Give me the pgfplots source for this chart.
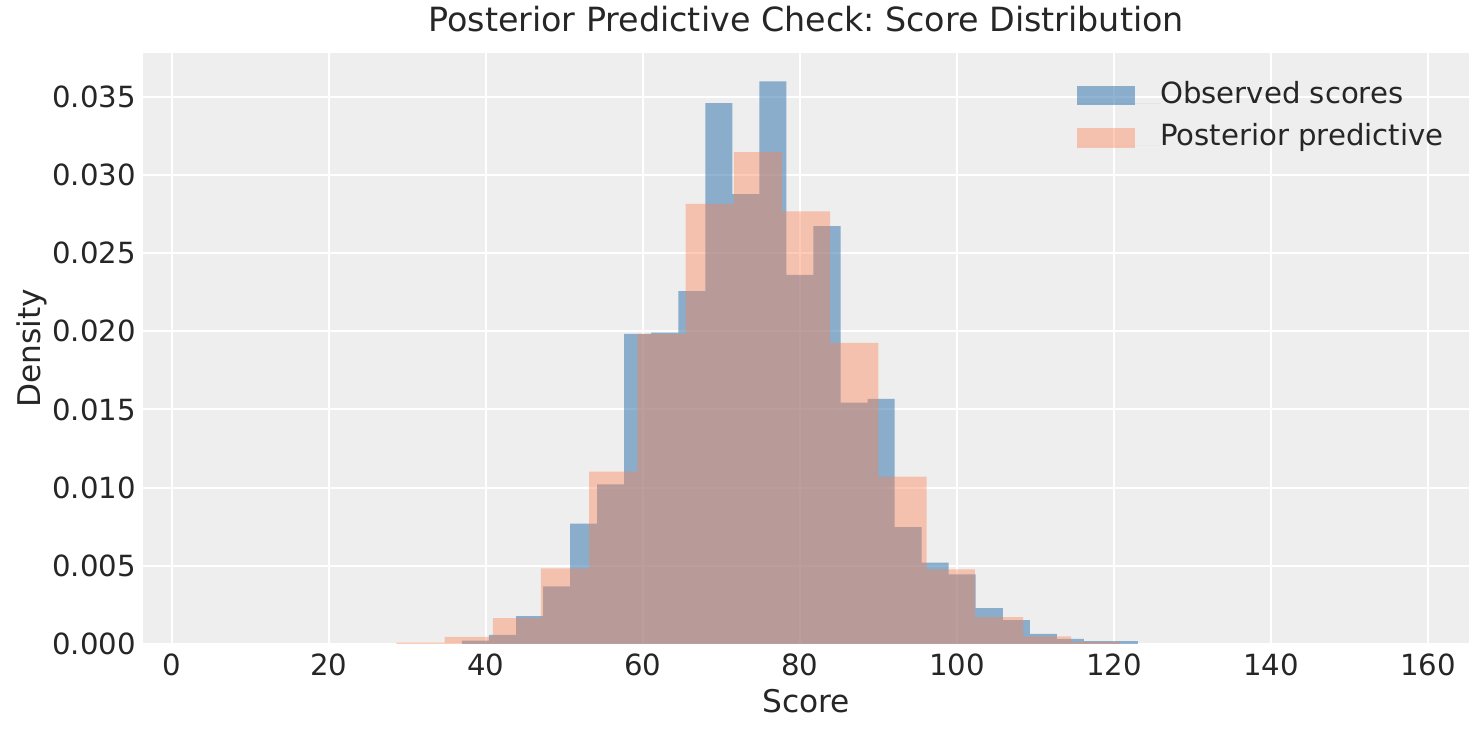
\documentclass[border=0pt]{standalone}
\usepackage{pgfplots}
\pgfplotsset{compat=1.18}
\usepackage{fontspec}
\setmainfont{DejaVu Sans}
\frenchspacing
\definecolor{obsblue}{RGB}{70,130,180}
\definecolor{ppcoral}{RGB}{255,127,80}
\definecolor{bgc}{HTML}{EEEEEE}
\definecolor{txt}{HTML}{262626}
\begin{document}
\begin{tikzpicture}
\begin{axis}[
  set layers,
  at={(68.78bp,42.72bp)}, anchor=south west,
  scale only axis, width=636.3bp, height=283.8bp,
  xmin=-3.62, xmax=165.18, ymin=0, ymax=0.03781,
  xtick={0,20,...,160},
  ytick={0,0.005,0.010,0.015,0.020,0.025,0.030,0.035},
  scaled y ticks=false,
  yticklabel style={/pgf/number format/fixed, /pgf/number format/fixed zerofill, /pgf/number format/precision=3},
  /pgf/number format/assume math mode=true,
  major tick length=0pt,
  axis line style={draw=none},
  axis background/.style={fill=bgc},
  grid=major,
  major grid style={white, line width=1bp},
  tick label style={font=\fontsize{14bp}{16.8bp}\selectfont, text=txt, inner sep=0pt},
  xticklabel style={anchor=base, yshift=-14.9bp},
  yticklabel style={anchor=east, xshift=-3.4bp},
  xlabel={Score}, ylabel={Density},
  label style={font=\fontsize{15bp}{18bp}\selectfont, text=txt, inner sep=0pt},
  xlabel style={at={(0.5,0)}, anchor=base, yshift=-33bp},
  ylabel style={at={(-0.0725,0.5)}, anchor=south},
  title={Posterior Predictive Check: Score Distribution},
  title style={font=\fontsize{16bp}{19.2bp}\selectfont, text=txt, inner sep=0pt, at={(0.5,1)}, anchor=base, yshift=4.2bp},
  legend style={draw=none, fill=none, at={(0.7043,0.9526)}, anchor=north west, inner sep=0pt,
     row sep=6.45bp, column sep=0pt,
     nodes={inner sep=0pt, text height=10.5bp, text depth=3.5bp, anchor=base west, font=\fontsize{14bp}{16.8bp}\selectfont, text=txt}},
  legend cell align=left,
]
\addplot[ybar interval, fill=obsblue, fill opacity=0.6, draw=none,
  legend image code/.code={\fill[obsblue, fill opacity=0.6] (0bp,-1bp) rectangle (27.8bp,8.4bp); \path (0bp,0bp) -- (39.8bp,0bp);}]
coordinates {
(36.96,0.00022) (40.40,0.00058) (43.85,0.00178) (47.29,0.00369) (50.73,0.00769)
(54.18,0.01021) (57.62,0.01983) (61.06,0.01991) (64.50,0.02257) (67.95,0.03459)
(71.39,0.02877) (74.83,0.03598) (78.28,0.02360) (81.72,0.02672) (85.16,0.01544)
(88.61,0.01568) (92.05,0.00747) (95.49,0.00521) (98.93,0.00445) (102.38,0.00229)
(105.82,0.00153) (109.26,0.00064) (112.71,0.00032) (116.15,0.00019) (119.59,0.00019)
(123.03,0.00019)
};
\addlegendentry{Observed scores}
\addplot[ybar interval, fill=ppcoral, fill opacity=0.4, draw=none,
  legend image code/.code={\fill[ppcoral, fill opacity=0.4] (0bp,-1bp) rectangle (27.8bp,8.4bp); \path (0bp,0bp) -- (39.8bp,0bp);}]
coordinates {
(28.60,0.000085) (34.74,0.00045) (40.88,0.00166) (47.02,0.00484) (53.15,0.01102)
(59.29,0.01983) (65.43,0.02814) (71.57,0.03146) (77.71,0.02767) (83.84,0.01925)
(89.98,0.01070) (96.12,0.00477) (102.26,0.00172) (108.40,0.00049) (114.53,0.00013)
(120.67,0.00013)
};
\addlegendentry{Posterior predictive}
\end{axis}
\pgfresetboundingbox
\useasboundingbox (0,0) rectangle (711.84bp,351.84bp);
\end{tikzpicture}
\end{document}
